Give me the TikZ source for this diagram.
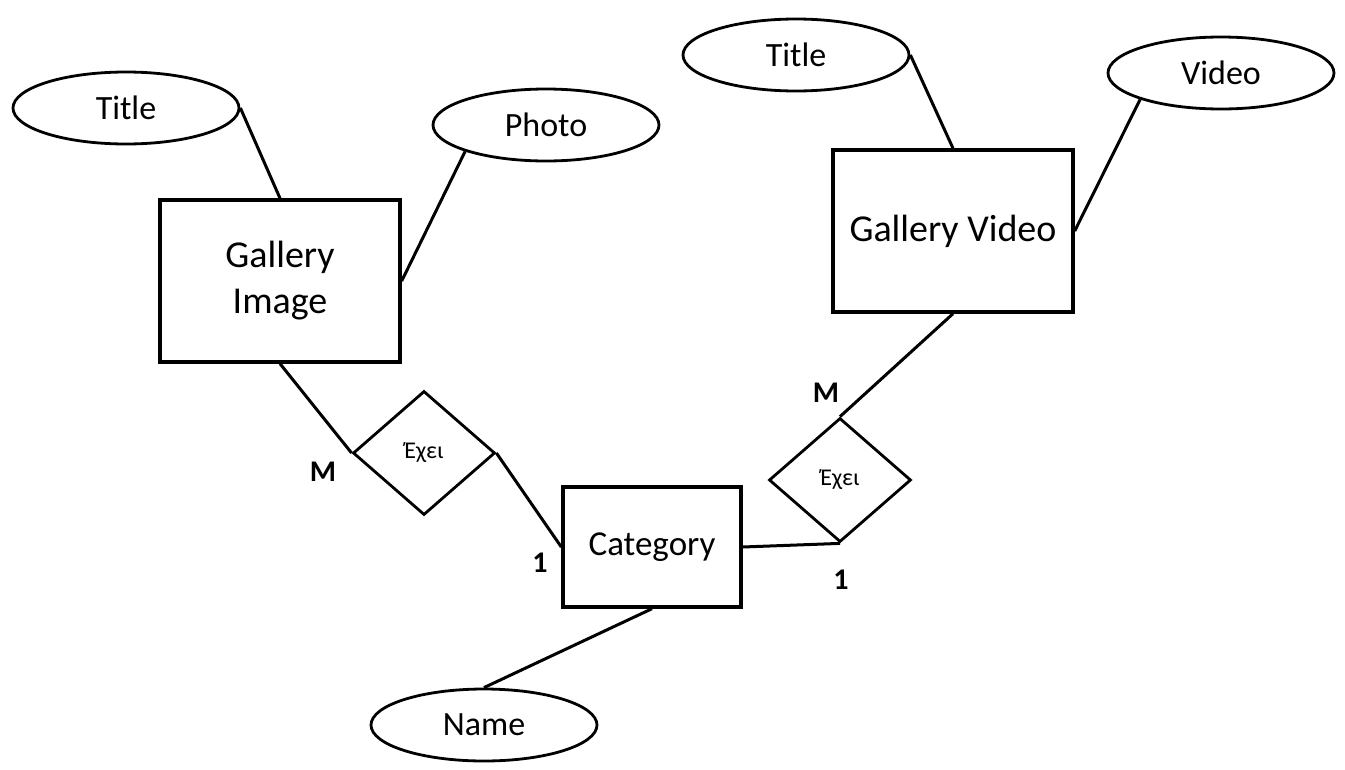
\documentclass[tikz,border=0pt]{standalone}
\usepackage{fontspec}
\setmainfont{Carlito}
\usetikzlibrary{shapes.geometric}
\begin{document}
\begin{tikzpicture}[x=1pt,y=-1pt,
  every node/.style={inner sep=0pt},
  attr/.style={ellipse,draw,line width=2.8pt,minimum width=226pt,minimum height=72pt,font=\fontsize{34}{38}\selectfont},
  entity/.style={rectangle,draw,line width=3.4pt,font=\fontsize{38}{46}\selectfont,align=center},
  rel/.style={diamond,draw,line width=2.8pt,aspect=1.145,minimum width=142pt,minimum height=124pt,font=\fontsize{24}{26}\selectfont},
  card/.style={font=\bfseries\fontsize{30}{32}\selectfont},
  link/.style={line width=3pt}]
\useasboundingbox (0,0) rectangle (1345,769);
% attributes
\node[attr] (tl) at (126,108) {Title};
\node[attr] (ph) at (546,125) {Photo};
\node[attr] (tr) at (796,55) {Title};
\node[attr] (vd) at (1221,73) {Video};
\node[attr] (nm) at (484,725) {Name};
% entities
\node[entity,minimum width=240pt,minimum height=162pt] (gi) at (280,281) {Gallery\\Image};
\node[entity,minimum width=240pt,minimum height=162pt] (gv) at (953,231) {Gallery Video};
\node[entity,minimum width=178pt,minimum height=120pt,font=\fontsize{35}{40}\selectfont] (cat) at (652,547) {Category};
% relationships
\node[rel] (r1) at (424,453) {Έχει};
\node[rel] (r2) at (840,480) {Έχει};
% connectors
\draw[link] (tl.east) -- (gi.north);
\draw[link] (ph.south west) -- (gi.east);
\draw[link] (tr.east) -- (gv.north);
\draw[link] (vd.south west) -- (gv.east);
\draw[link] (gi.south) -- (r1.west);
\draw[link] (r1.east) -- (cat.west);
\draw[link] (cat.east) -- (r2.south);
\draw[link] (gv.south) -- (r2.north);
\draw[link] (cat.south) -- (nm.north);
% cardinalities
\node[card] (m1) at (323,472) {M};
\node[card] (o1) at (540,563) {1};
\node[card] (m2) at (826,393) {M};
\node[card] (o2) at (841,580) {1};
\end{tikzpicture}
\end{document}
